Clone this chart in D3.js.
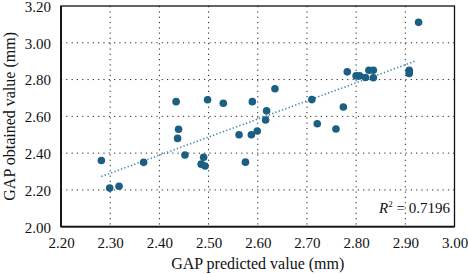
<!DOCTYPE html>
<html><head><meta charset="utf-8">
<script src="https://cdn.jsdelivr.net/npm/d3@7"></script>
<style>body{margin:0;background:#fff}svg{display:block}text{font-family:"Liberation Serif","DejaVu Serif",serif;fill:#111}</style>
</head><body><svg id="c" width="468" height="274"></svg>
<script>
const predicted = [2.434,2.439,2.437,2.452,2.282,2.368,2.299,2.318,2.498,2.530,2.589,2.635,2.618,2.616,2.562,2.587,2.599,2.490,2.485,2.493,2.575,2.927,2.782,2.800,2.807,2.819,2.826,2.835,2.835,2.908,2.908,2.908,2.710,2.774,2.721,2.759];
const obtained  = [2.680,2.530,2.480,2.390,2.360,2.350,2.210,2.220,2.690,2.671,2.680,2.750,2.630,2.580,2.500,2.500,2.520,2.378,2.340,2.330,2.351,3.111,2.842,2.820,2.820,2.811,2.851,2.851,2.810,2.851,2.842,2.833,2.691,2.651,2.560,2.531];
const trendX = [2.282, 2.920];
const trendY = [2.273, 2.900];
const xTicks = [2.20,2.30,2.40,2.50,2.60,2.70,2.80,2.90,3.00];
const yTicks = [2.00,2.20,2.40,2.60,2.80,3.00,3.20];
const r2Label = "0.7196";

const L=61, R=454.5, T=6, B=226.7;
const x=d3.scaleLinear().domain([2.2,3.0]).range([L,R]);
const y=d3.scaleLinear().domain([2.0,3.2]).range([B,T]);
const svg=d3.select("#c");

// grid
const g=svg.append("g");
g.selectAll("line.gx").data(xTicks.slice(1,-1)).join("line")
 .attr("x1",d=>x(d)).attr("x2",d=>x(d)).attr("y1",T).attr("y2",B)
 .attr("stroke","#222").attr("stroke-width",1).attr("stroke-dasharray","1.2,4.1");
g.selectAll("line.gy").data(yTicks.slice(1,-1)).join("line")
 .attr("y1",d=>y(d)).attr("y2",d=>y(d)).attr("x1",L).attr("x2",R)
 .attr("stroke","#222").attr("stroke-width",1).attr("stroke-dasharray","1.2,4.1");

// frame
svg.append("rect").attr("x",L).attr("y",T).attr("width",R-L).attr("height",B-T)
 .attr("fill","none").attr("stroke","#111").attr("stroke-width",1.3);
svg.append("line").attr("x1",L).attr("x2",L).attr("y1",T).attr("y2",B).attr("stroke","#111").attr("stroke-width",1.8);
svg.append("line").attr("x1",L).attr("x2",R).attr("y1",B).attr("y2",B).attr("stroke","#111").attr("stroke-width",1.8);

// axes
const xa=svg.append("g").attr("transform",`translate(0,${B})`)
 .call(d3.axisBottom(x).tickValues(xTicks).tickFormat(d3.format(".2f")).tickSize(0).tickPadding(10));
const ya=svg.append("g").attr("transform",`translate(${L},0)`)
 .call(d3.axisLeft(y).tickValues(yTicks).tickFormat(d3.format(".2f")).tickSize(0).tickPadding(10));
[xa,ya].forEach(a=>{a.select(".domain").remove();a.selectAll("text").attr("font-size",15).attr("font-family","Liberation Serif").attr("fill","#111");});
ya.selectAll("text").attr("dy","0.36em");
xa.selectAll("text").attr("dy","0.75em");

// trend line
svg.append("line").attr("x1",x(trendX[0])).attr("y1",y(trendY[0])).attr("x2",x(trendX[1])).attr("y2",y(trendY[1]))
 .attr("stroke","#3a8ab0").attr("stroke-width",1.6).attr("stroke-dasharray","1.3,2.2");

// points
svg.append("g").selectAll("circle").data(predicted.map((p,i)=>[p,obtained[i]])).join("circle")
 .attr("cx",d=>x(d[0])).attr("cy",d=>y(d[1])).attr("r",3.8).attr("fill","#1b5f82");

// R2
const rt=svg.append("text").attr("x",450).attr("y",213).attr("text-anchor","end").attr("font-size",15);
rt.append("tspan").attr("font-style","italic").text("R");
rt.append("tspan").attr("font-size",9).attr("dy",-6).text("2");
rt.append("tspan").attr("dy",6).text(" = " + r2Label);

// titles
svg.append("text").attr("x",(L+R)/2).attr("y",269).attr("text-anchor","middle").attr("font-size",16).text("GAP predicted value (mm)");
svg.append("text").attr("transform",`translate(15,${(T+B)/2}) rotate(-90)`).attr("text-anchor","middle").attr("font-size",16).text("GAP obtained value (mm)");
</script></body></html>
